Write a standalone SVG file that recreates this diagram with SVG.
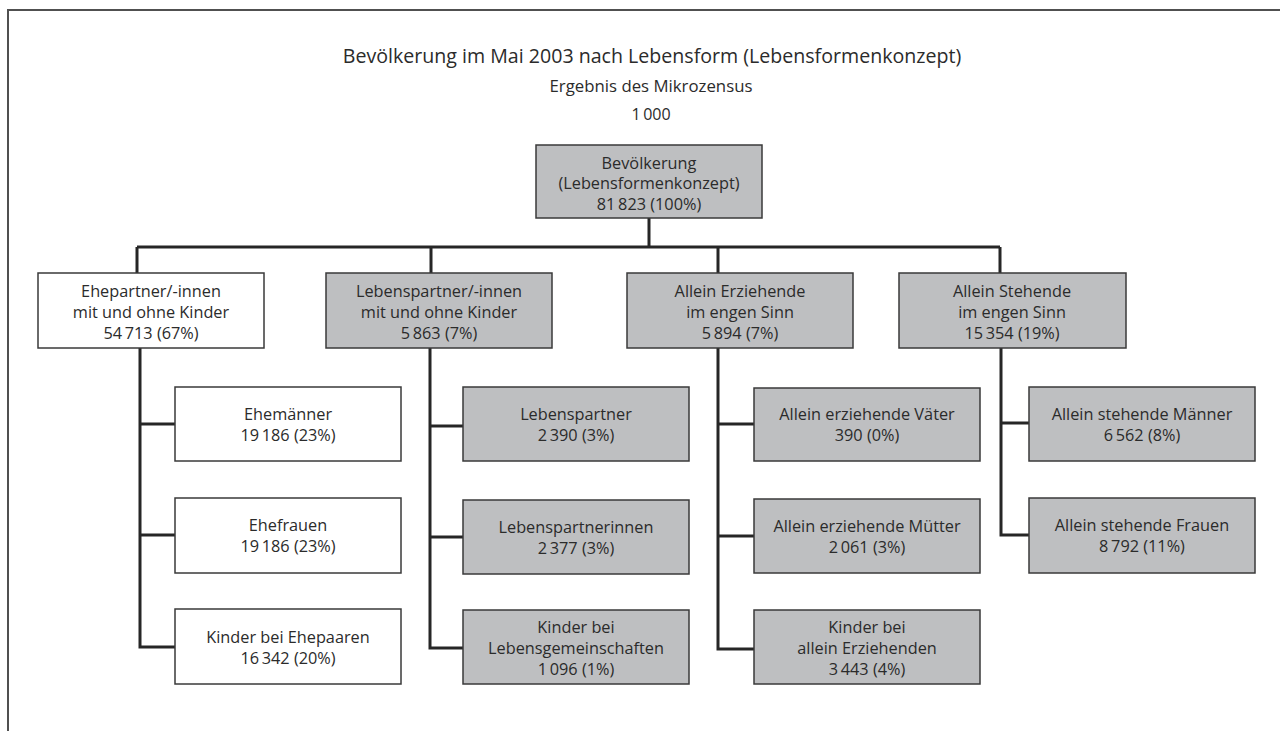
<svg xmlns="http://www.w3.org/2000/svg" width="1280" height="731" viewBox="0 0 1280 731">
<style>
.t{font-family:"Open Sans","Noto Sans","Liberation Sans",sans-serif;fill:#2b2b2b;text-anchor:middle}
.b{font-size:16.3px}
.g{fill:#bebfc1;stroke:#3a3a3a;stroke-width:1.5}
.w{fill:#fff;stroke:#3a3a3a;stroke-width:1.5}
.c{fill:none;stroke:#262626;stroke-width:3}
</style>
<rect x="8" y="10" width="1300" height="760" fill="none" stroke="#505050" stroke-width="2"/>
<text class="t" x="652" y="63" font-size="19.6">Bevölkerung im Mai 2003 nach Lebensform (Lebensformenkonzept)</text>
<text class="t" x="651" y="92" font-size="16.8">Ergebnis des Mikrozensus</text>
<text class="t" x="651" y="120" font-size="16">1&#8201;000</text>
<g id="connectors">
<path class="c" d="M649 218V247M137 247H1000M137 247V273M431 247V273M718 247V273M1000 247V273"/>
<path class="c" d="M140 348V647H175M140 424H175M140 535H175"/>
<path class="c" d="M430 348V648H463M430 426H463M430 537H463"/>
<path class="c" d="M718 348V649H754M718 424H754M718 536H754"/>
<path class="c" d="M1001 348V535H1029M1001 423H1029"/>
</g>
<g id="n0"><rect class="g" x="536" y="145" width="226" height="73"/>
<text class="t b" x="649" y="169">Bevölkerung</text><text class="t b" x="649" y="189">(Lebensformenkonzept)</text><text class="t b" x="649" y="210">81&#8201;823 (100%)</text></g>
<g id="n1"><rect class="w" x="38" y="273" width="226" height="75"/>
<text class="t b" x="151" y="297">Ehepartner/-innen</text><text class="t b" x="151" y="318">mit und ohne Kinder</text><text class="t b" x="151" y="339">54&#8201;713 (67%)</text></g>
<g id="n2"><rect class="g" x="326" y="273" width="226" height="75"/>
<text class="t b" x="439" y="297">Lebenspartner/-innen</text><text class="t b" x="439" y="318">mit und ohne Kinder</text><text class="t b" x="439" y="339">5&#8201;863 (7%)</text></g>
<g id="n3"><rect class="g" x="627" y="273" width="226" height="75"/>
<text class="t b" x="740" y="297">Allein Erziehende</text><text class="t b" x="740" y="318">im engen Sinn</text><text class="t b" x="740" y="339">5&#8201;894 (7%)</text></g>
<g id="n4"><rect class="g" x="899" y="273" width="227" height="75"/>
<text class="t b" x="1012" y="297">Allein Stehende</text><text class="t b" x="1012" y="318">im engen Sinn</text><text class="t b" x="1012" y="339">15&#8201;354 (19%)</text></g>
<g id="n11"><rect class="w" x="175" y="387" width="226" height="74"/>
<text class="t b" x="288" y="420">Ehemänner</text><text class="t b" x="288" y="441">19&#8201;186 (23%)</text></g>
<g id="n12"><rect class="w" x="175" y="498" width="226" height="75"/>
<text class="t b" x="288" y="531">Ehefrauen</text><text class="t b" x="288" y="552">19&#8201;186 (23%)</text></g>
<g id="n13"><rect class="w" x="175" y="609" width="226" height="75"/>
<text class="t b" x="288" y="643">Kinder bei Ehepaaren</text><text class="t b" x="288" y="664">16&#8201;342 (20%)</text></g>
<g id="n21"><rect class="g" x="463" y="387" width="226" height="74"/>
<text class="t b" x="576" y="420">Lebenspartner</text><text class="t b" x="576" y="441">2&#8201;390 (3%)</text></g>
<g id="n22"><rect class="g" x="463" y="500" width="226" height="74"/>
<text class="t b" x="576" y="533">Lebenspartnerinnen</text><text class="t b" x="576" y="554">2&#8201;377 (3%)</text></g>
<g id="n23"><rect class="g" x="463" y="610" width="226" height="74"/>
<text class="t b" x="576" y="633">Kinder bei</text><text class="t b" x="576" y="654">Lebensgemeinschaften</text><text class="t b" x="576" y="675">1&#8201;096 (1%)</text></g>
<g id="n31"><rect class="g" x="754" y="388" width="226" height="73"/>
<text class="t b" x="867" y="420">Allein erziehende Väter</text><text class="t b" x="867" y="441">390 (0%)</text></g>
<g id="n32"><rect class="g" x="754" y="499" width="226" height="74"/>
<text class="t b" x="867" y="532">Allein erziehende Mütter</text><text class="t b" x="867" y="553">2&#8201;061 (3%)</text></g>
<g id="n33"><rect class="g" x="754" y="610" width="226" height="74"/>
<text class="t b" x="867" y="633">Kinder bei</text><text class="t b" x="867" y="654">allein Erziehenden</text><text class="t b" x="867" y="675">3&#8201;443 (4%)</text></g>
<g id="n41"><rect class="g" x="1029" y="387" width="226" height="74"/>
<text class="t b" x="1142" y="420">Allein stehende Männer</text><text class="t b" x="1142" y="441">6&#8201;562 (8%)</text></g>
<g id="n42"><rect class="g" x="1029" y="498" width="226" height="75"/>
<text class="t b" x="1142" y="531">Allein stehende Frauen</text><text class="t b" x="1142" y="552">8&#8201;792 (11%)</text></g>
</svg>
